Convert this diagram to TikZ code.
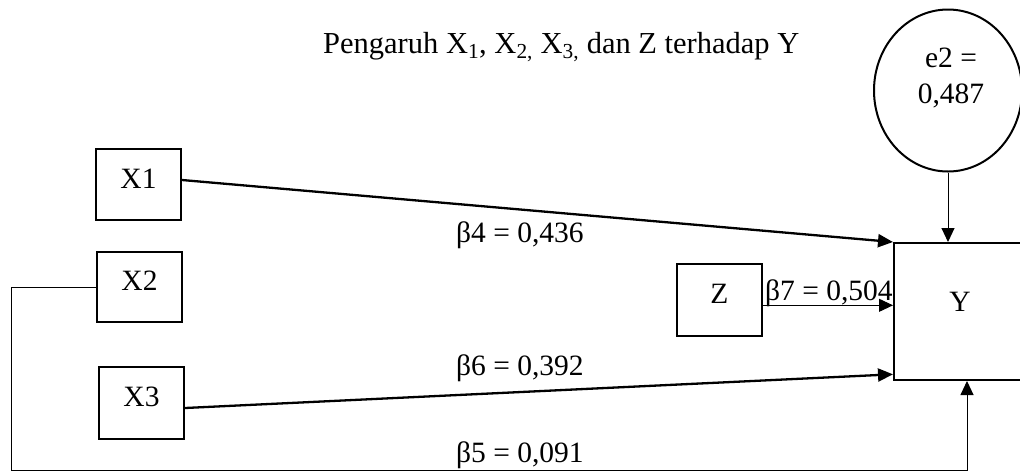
\documentclass[tikz,border=0pt]{standalone}
\usepackage{fontspec}
\setmainfont{Liberation Serif}
\usetikzlibrary{arrows.meta,shapes.geometric,calc}
\tikzset{
  lbl/.style={font=\fontsize{29.5}{34}\selectfont, inner sep=0pt},
  varbox/.style={draw, line width=2pt, minimum width=85pt, minimum height=71pt, inner sep=0pt,
     text depth=12pt, font=\fontsize{29.5}{34}\selectfont},
  thick arrow/.style={line width=2.3pt, -{Triangle[length=15pt,width=13pt]}},
  thin arrow/.style={line width=1pt, -{Triangle[length=14pt,width=13pt]}},
}
\begin{document}
\begin{tikzpicture}[x=1pt,y=-1pt]
\useasboundingbox (0,0) rectangle (1020,475);
\clip (0,0) rectangle (1020,475);
% title
\node[lbl, anchor=base west, font=\fontsize{30.5}{36}\selectfont] (title) at (323,53)
  {Pengaruh X\textsubscript{1}, X\textsubscript{2,} X\textsubscript{3,} dan Z terhadap Y};
% nodes
\node[varbox] (X1) at (138.5,184.5) {X1};
\node[varbox, minimum height=70pt] (X2) at (139.5,287) {X2};
\node[varbox, minimum height=72pt] (X3) at (141.5,403) {X3};
\node[varbox, minimum height=72pt] (Z) at (719.5,300) {Z};
\node[varbox, minimum width=132pt, minimum height=137pt, text depth=20pt] (Y) at (960,311.5) {Y};
\node[draw, ellipse, line width=2pt, minimum width=148pt, minimum height=162pt, inner sep=0pt] (e2) at (948,90.5) {};
\node[lbl, align=center, font=\fontsize{29.5}{36.5}\selectfont] (e2text) at (951,78) {e2 =\\0,487};
% connectors
\draw[thick arrow] ([yshift=4.5pt]X1.east) -- (Y.north west);
\draw[thick arrow] ([yshift=-5pt]X3.east) -- ([yshift=6.7pt]Y.south west);
\draw[thin arrow] ([yshift=-5.3pt]Z.east) coordinate (zs) -- (zs -| Y.west);
\draw[thin arrow] (e2.south) -- (e2.south |- Y.north);
\coordinate (c1) at (11,470);
\coordinate (yb) at ([xshift=7pt]Y.south);
\draw[line width=1pt] (X2.west) -| (c1);
\draw[thin arrow] (c1) -| (yb);
% labels
\node[lbl, anchor=base west] (b4) at (456,242) {β4 = 0,436};
\node[lbl, anchor=base west] (b6) at (456,375) {β6 = 0,392};
\node[lbl, anchor=base west] (b5) at (456,462) {β5 = 0,091};
\node[lbl, anchor=base west] (b7) at (765,300) {β7 = 0,504};
\end{tikzpicture}
\end{document}
